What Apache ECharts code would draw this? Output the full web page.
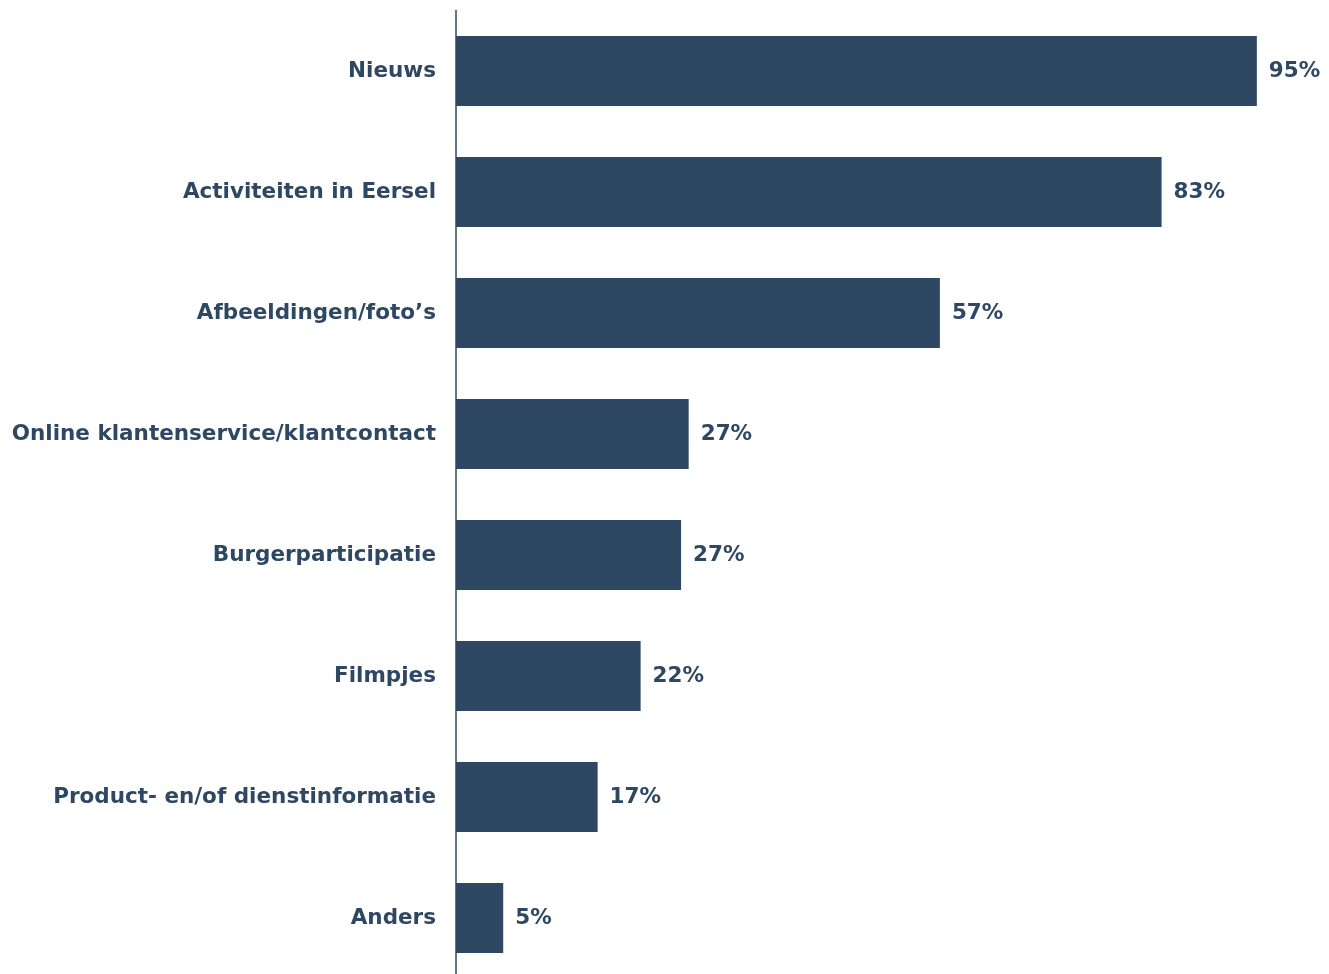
<!DOCTYPE html>
<html>
<head>
<meta charset="utf-8">
<script src="https://cdn.jsdelivr.net/npm/echarts@6/dist/echarts.min.js"></script>
<style>
html,body{margin:0;padding:0;background:#fff;overflow:hidden;}
#chart{width:1329px;height:990px;}
</style>
</head>
<body>
<div id="chart"></div>
<script>
const categories = ["Nieuws","Activiteiten in Eersel","Afbeeldingen/foto\u2019s","Online klantenservice/klantcontact","Burgerparticipatie","Filmpjes","Product- en/of dienstinformatie","Anders"];
const values = [95, 83.7, 57.4, 27.6, 26.7, 21.9, 16.8, 5.6];
const valueLabels = ["95%","83%","57%","27%","27%","22%","17%","5%"];

const color = "#2E4763";
const font = "'DejaVu Sans', Verdana, sans-serif";
const chart = echarts.init(document.getElementById('chart'), null, {renderer:'canvas'});
chart.setOption({
  animation:false,
  grid:{left:456, top:10.5, height:968, width:843, containLabel:false},
  xAxis:{type:'value', min:0, max:100, show:false},
  yAxis:{type:'category', data:categories, inverse:true,
    axisLine:{show:true, lineStyle:{color:color, width:1.5}},
    axisTick:{show:false},
    axisLabel:{color:color, fontFamily:font, fontWeight:'bold', fontSize:21.5, margin:20}
  },
  series:[{type:'bar', data:values, barWidth:70,
    itemStyle:{color:color},
    label:{show:true, position:'right', distance:12, color:color, fontFamily:font, fontWeight:'bold', fontSize:21.5,
      formatter:(p)=>valueLabels[p.dataIndex]}
  }]
});
</script>
</body>
</html>
